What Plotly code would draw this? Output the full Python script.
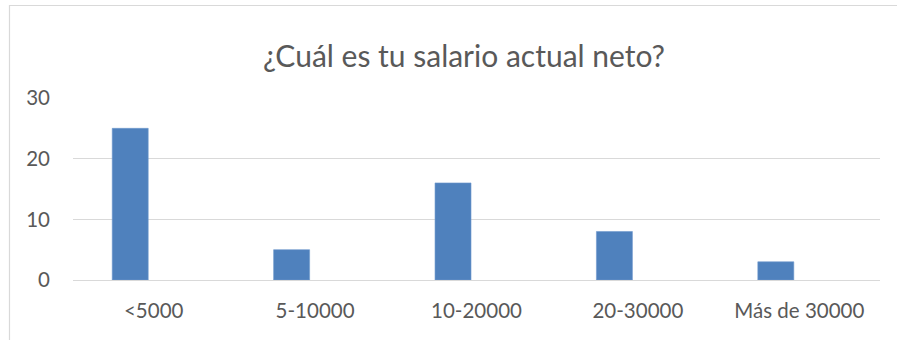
import plotly.graph_objects as go

# Survey answers: net salary ranges and number of respondents
categories = ["<5000", "5-10000", "10-20000", "20-30000", "Más de 30000"]
counts = [25, 5, 16, 8, 3]
y_ticks = [0, 10, 20, 30]

W, H = 897, 340
L, R, T, B = 73, 17, 98, 60
plot_w = W - L - R
plot_h = H - T - B

def px_x(x):
    return (x - L) / plot_w

def px_y(y):
    return (H - B - y) / plot_h

font_family = "Lato, 'Open Sans', sans-serif"
text_color = "#595959"
grid_color = "#d9d9d9"

fig = go.Figure(
    go.Bar(
        x=categories,
        y=counts,
        width=0.223,
        offset=-0.257,
        marker=dict(color="#4f81bd", line=dict(color="#6f99cc", width=0.6)),
        hoverinfo="x+y",
    )
)

fig.update_layout(
    width=W,
    height=H,
    margin=dict(l=L, r=R, t=T, b=B),
    paper_bgcolor="white",
    plot_bgcolor="white",
    showlegend=False,
    font=dict(family=font_family, color=text_color, size=20.5),
    title=dict(
        text="¿Cuál es tu salario actual neto?",
        font=dict(family=font_family, size=30, color=text_color),
        x=px_x(464),
        xref="paper",
        xanchor="center",
        y=1 - 56 / H,
        yref="container",
        yanchor="middle",
    ),
    xaxis=dict(
        showgrid=False,
        showline=False,
        zeroline=False,
        ticks="",
        ticklabelstandoff=16,
        tickfont=dict(size=20.5, color=text_color),
    ),
    yaxis=dict(
        range=[0, 30],
        tickvals=y_ticks,
        showgrid=True,
        gridcolor=grid_color,
        gridwidth=1.2,
        zeroline=True,
        zerolinecolor=grid_color,
        zerolinewidth=1.2,
        showline=False,
        ticks="",
        ticklabelstandoff=22,
        tickfont=dict(size=20.5, color=text_color),
    ),
    shapes=[
        dict(
            type="rect",
            xref="paper",
            yref="paper",
            x0=px_x(9.5),
            x1=px_x(900),
            y0=px_y(345),
            y1=px_y(5.5),
            line=dict(color=grid_color, width=1.2),
            fillcolor="rgba(0,0,0,0)",
            layer="below",
        )
    ],
)

fig.write_html("out.html")
